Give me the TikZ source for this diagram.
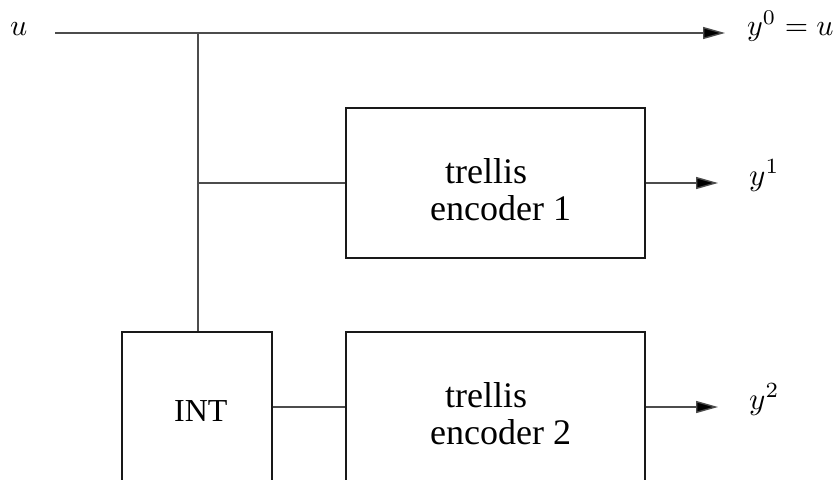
\documentclass[tikz,border=0pt]{standalone}
\usepackage[no-math]{fontspec}
\setmainfont{Liberation Serif}
\usetikzlibrary{arrows.meta}
\newcommand{\lblmath}[2][3.3]{\scalebox{#1}{$#2$}}
\begin{document}
\begin{tikzpicture}[x=1pt,y=-1pt,
  wire/.style={draw=black!70, line width=1.4pt},
  arr/.style={wire, -{Triangle[length=22pt,width=12pt,fill=black]}},
  blk/.style={draw=black!90, line width=1.1pt, rectangle, inner sep=0pt},
  txt/.style={anchor=base west, inner sep=0pt, font=\fontsize{36}{40}\selectfont},
  mth/.style={anchor=base west, inner sep=0pt, font=\fontsize{10}{12}\selectfont}]
\clip (0,0) rectangle (834,479);
\useasboundingbox (0,0) rectangle (834,479);
% blocks
\node[blk, minimum width=299pt, minimum height=150pt] (enc1) at (495.5,183) {};
\node[blk, minimum width=299pt, minimum height=150pt] (enc2) at (495.5,407) {};
\node[blk, minimum width=150pt, minimum height=150pt] (int) at (197,407) {};
% texts
\node[txt] (t1a) at (445,183) {trellis};
\node[txt] (t1b) at (430,220.5) {encoder 1};
\node[txt] (t2a) at (445,407) {trellis};
\node[txt] (t2b) at (430,444) {encoder 2};
\node[txt, font=\fontsize{32}{36}\selectfont] (intl) at (174,421) {INT};
% labels
\node[mth] (ul) at (10,35) {\lblmath[3.0]{u}};
\node[mth] (y0) at (747,35) {\lblmath[3.0]{y^0=u}};
\node[mth] (y1) at (749,185) {\lblmath[3.1]{y^1}};
\node[mth] (y2) at (749,409) {\lblmath[3.1]{y^2}};
% coordinates
\coordinate (in) at (55,33);
\coordinate (tee) at (198,33);
\coordinate (out0) at (725,33);
\coordinate (tee1) at (198,183);
\coordinate (out1) at (718,183);
\coordinate (out2) at (718,407);
% connectors
\draw[arr] (in) -- (out0);
\draw[wire] (tee) -- (tee |- int.north);
\draw[wire] (tee1) -- (enc1.west);
\draw[wire] (int.east) -- (enc2.west);
\draw[arr] (enc1.east) -- (out1);
\draw[arr] (enc2.east) -- (out2);
\end{tikzpicture}
\end{document}
